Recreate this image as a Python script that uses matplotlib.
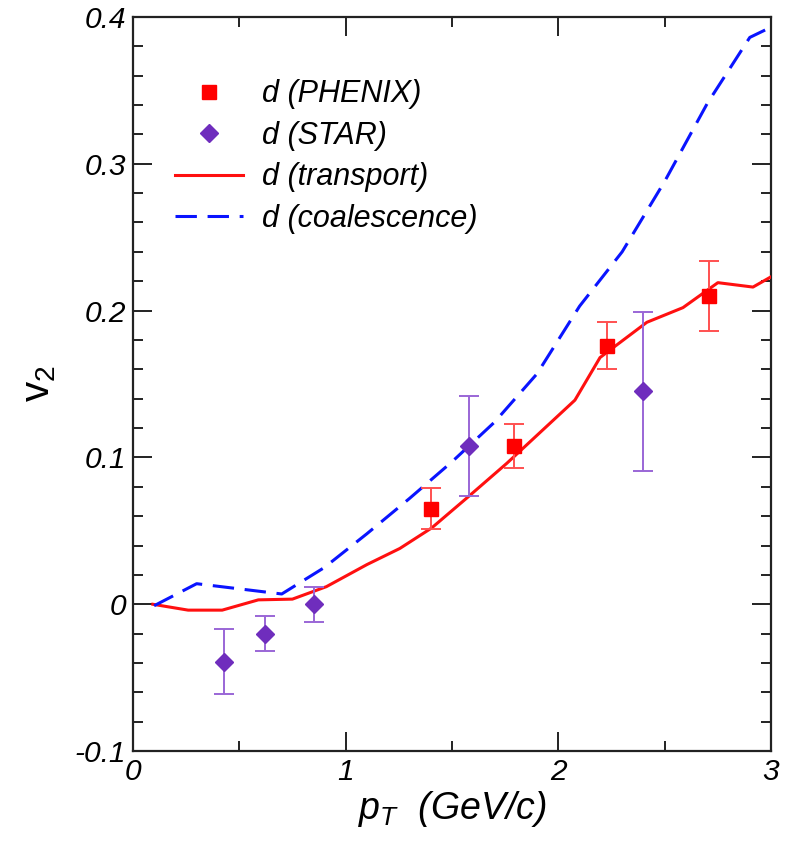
import matplotlib
matplotlib.use("Agg")
import matplotlib.pyplot as plt
from matplotlib.ticker import MultipleLocator

plt.rcParams['font.family'] = ['Liberation Sans', 'DejaVu Sans']
plt.rcParams['mathtext.fontset'] = 'custom'
plt.rcParams['mathtext.it'] = 'Liberation Sans:italic'
plt.rcParams['mathtext.rm'] = 'Liberation Sans'

# PHENIX deuteron v2
phenix_pt = [1.40, 1.79, 2.23, 2.71]
phenix_v2 = [0.065, 0.108, 0.176, 0.210]
phenix_err = [0.014, 0.015, 0.016, 0.024]

# STAR deuteron v2
star_pt = [0.43, 0.62, 0.85, 1.58, 2.40]
star_v2 = [-0.039, -0.020, 0.000, 0.108, 0.145]
star_err = [0.022, 0.012, 0.012, 0.034, 0.054]

# transport model
trans_pt = [0.094, 0.26, 0.42, 0.59, 0.75, 0.91, 1.10, 1.255, 1.405, 1.575,
            1.758, 2.078, 2.196, 2.416, 2.586, 2.75, 2.915, 3.0]
trans_v2 = [0.0, -0.004, -0.004, 0.003, 0.0035, 0.012, 0.027, 0.038, 0.052, 0.073,
            0.096, 0.139, 0.168, 0.192, 0.202, 0.219, 0.216, 0.223]

# coalescence model
coal_pt = [0.10, 0.30, 0.70, 0.90, 1.10, 1.30, 1.50, 1.70, 1.90, 2.10,
           2.30, 2.50, 2.70, 2.90, 3.00]
coal_v2 = [-0.001, 0.014, 0.007, 0.025, 0.048, 0.072, 0.097, 0.124, 0.157, 0.203,
           0.240, 0.288, 0.341, 0.386, 0.393]

fig = plt.figure(figsize=(7.86, 8.43), dpi=100)
ax = fig.add_axes([0.169, 0.109, 0.812, 0.871])

ax.plot(trans_pt, trans_v2, color='#ff1010', lw=2.2, label='d (transport)', zorder=3)
ax.plot(coal_pt, coal_v2, color='#0a14ff', lw=2.2, dashes=(7.0, 3.5),
        label='d (coalescence)', zorder=3)

ax.errorbar(phenix_pt, phenix_v2, yerr=phenix_err, fmt='none', ecolor='#ff5050',
            elinewidth=1.4, capsize=7, capthick=1.4, zorder=4)
ax.errorbar(star_pt, star_v2, yerr=star_err, fmt='none', ecolor='#9a66d6',
            elinewidth=1.4, capsize=7, capthick=1.4, zorder=4)
p1, = ax.plot(phenix_pt, phenix_v2, 's', color='#ff0000', ms=10, ls='none',
              label='d (PHENIX)', zorder=5)
p2, = ax.plot(star_pt, star_v2, 'D', color='#6f2dbd', ms=9, ls='none',
              label='d (STAR)', zorder=5)

ax.set_xlim(0, 3)
ax.set_ylim(-0.1, 0.4)
ax.xaxis.set_minor_locator(MultipleLocator(0.5))
ax.yaxis.set_minor_locator(MultipleLocator(0.02))
ax.set_yticks([-0.1, 0, 0.1, 0.2, 0.3, 0.4])
ax.set_yticklabels(['-0.1', '0', '0.1', '0.2', '0.3', '0.4'], fontstyle='italic')
ax.set_xticks([0, 1, 2, 3])
ax.set_xticklabels(['0', '1', '2', '3'], fontstyle='italic')
ax.tick_params(which='both', direction='in', top=True, right=True,
               labelsize=21.5, color='#222222', width=1.4)
ax.tick_params(which='major', length=14, pad=5)
ax.tick_params(which='minor', length=7.5)
for s in ax.spines.values():
    s.set_linewidth(1.6)
    s.set_color('#222222')

ax.set_xlabel(r'$p_T$  (GeV/c)', fontsize=27, fontstyle='italic', labelpad=2)
ax.set_ylabel(r'v$_{\mathrm{2}}$', fontsize=29, labelpad=12)

handles = [p1, p2] + ax.get_lines()[:2]
leg = ax.legend(handles=handles, loc='upper left', bbox_to_anchor=(0.066, 0.915),
                frameon=False, prop={'size': 22, 'style': 'italic'},
                handlelength=2.22, handletextpad=0.62, labelspacing=0.38,
                borderaxespad=0, borderpad=0)

fig.savefig('out.png', dpi=100)
